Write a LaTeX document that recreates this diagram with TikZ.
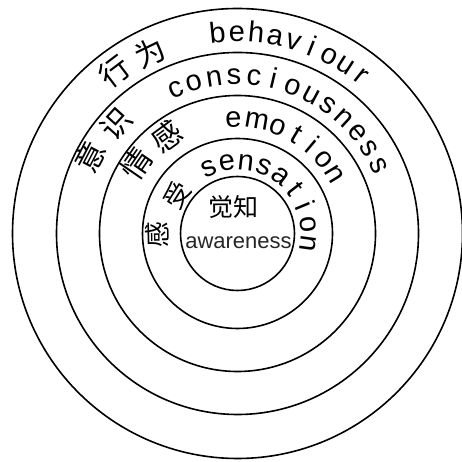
\documentclass[tikz,border=0pt]{standalone}
\usepackage{fontspec}
\setmainfont{Liberation Sans}
\newfontfamily\cjk{Noto Sans CJK SC}
\newcommand\arcword[5]{% #1 name prefix, #2 start angle, #3 step, #4 baseline radius, #5 letters
  \foreach \ch [count=\i from 0] in {#5} {
    \pgfmathsetmacro\th{#2+#3*\i}
    \node[lat, rotate=-\th] (#1-\i) at ([shift={({90-\th}:#4)}]C) {\ch};
  }}
\newcommand\arcletters[3]{% #1 name prefix, #2 baseline radius, #3 list angle/letter
  \foreach \th/\ch [count=\i from 0] in {#3} {
    \node[lat, rotate=-\th] (#1-\i) at ([shift={({90-\th}:#2)}]C) {\ch};
  }}
\newcommand\arcchar[5]{% #1 name, #2 angle, #3 radius, #4 size, #5 char
  \node[han, font=\cjk\fontsize{#4}{#4}\selectfont, rotate=-#2] (#1) at ([shift={({90-#2}:#3)}]C) {#5};}
\begin{document}
\begin{tikzpicture}[x=1pt,y=1pt,
  ring/.style={draw=black, line width=1.6pt},
  lat/.style={font=\fontsize{29}{29}\selectfont, inner sep=0pt, anchor=base},
  han/.style={inner sep=0pt, anchor=center},
]
\useasboundingbox (0,0) rectangle (462,462);
\coordinate (C) at (237.5,228.5);
\foreach \r in {225,181,138,95,57} \draw[ring] (C) circle (\r);
% behaviour ring
\arcchar{xing}{-37.2}{203}{30}{行}
\arcchar{wei}{-25.9}{201}{30}{为}
\arcword{beh}{-5.7}{5.51}{192}{b,e,h,a,v,i,o,u,r}
% consciousness ring
\arcchar{yi}{-62.5}{166}{30}{意}
\arcchar{shi}{-48}{163}{30}{识}
\arcword{con}{-23.2}{7.31}{149}{c,o,n,s,c,i,o,u,s,n,e,s,s}
% emotion ring
\arcchar{qing}{-55.5}{123}{30}{情}
\arcchar{gan}{-36.2}{120}{30}{感}
\arcletters{emo}{106}{-2/e, 9.8/m, 21/o, 30.7/t, 40/i, 49.3/o, 58.5/n}
% sensation ring
\arcchar{gan2}{-91}{80}{26}{感}
\arcchar{shou}{-57.5}{72}{26}{受}
\arcword{sen}{-23.8}{15.2}{63.5}{s,e,n,s,a,t,i,o,n}
% centre
\node[han, font=\cjk\fontsize{25}{25}\selectfont] (jz) at (233.5,254.5) {觉知};
\node[inner sep=0pt, font=\fontsize{22}{22}\selectfont, text=black!85] (aw) at (238.5,219) {awareness};
\end{tikzpicture}
\end{document}
